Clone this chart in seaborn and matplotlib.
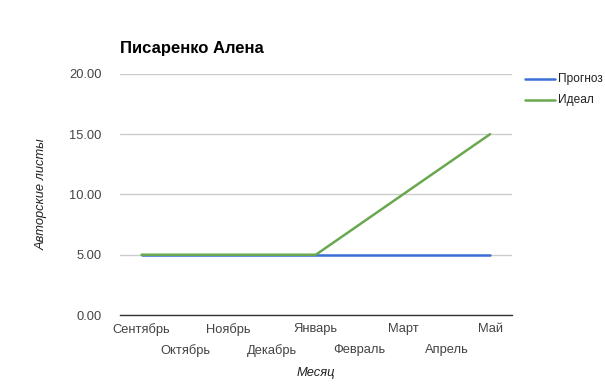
import pandas as pd
import matplotlib
matplotlib.use("Agg")
import matplotlib.pyplot as plt
import matplotlib.transforms as mtransforms
import seaborn as sns

months = ["Сентябрь", "Октябрь", "Ноябрь", "Декабрь", "Январь",
          "Февраль", "Март", "Апрель", "Май"]
forecast = [5, 5, 5, 5, 5, 5, 5, 5, 5]
ideal = [5, 5, 5, 5, 5, 7.5, 10, 12.5, 15]
series_names = ["Прогноз", "Идеал"]
y_ticks = [0, 5, 10, 15, 20]

sns.set_theme(style="white")
plt.rcParams["font.family"] = ["Liberation Sans", "DejaVu Sans"]

df = pd.DataFrame({
    "month": months * 2,
    "pos": list(range(len(months))) * 2,
    "value": forecast + ideal,
    "series": [series_names[0]] * len(months) + [series_names[1]] * len(months),
})

fig = plt.figure(figsize=(6.05, 3.87), dpi=100)
ax = fig.add_axes([0.198, 0.186, 0.648, 0.623])

colors = {"Прогноз": "#3c6fd6", "Идеал": "#6aa84f"}
sns.lineplot(data=df, x="pos", y="value", hue="series", palette=colors,
             linewidth=1.8, ax=ax, legend=False)

ax.set_xlim(-0.5, len(months) - 0.5)
ax.set_ylim(0, 20)
ax.set_yticks(y_ticks)
ax.set_yticklabels([f"{v:.2f}" for v in y_ticks], color="#444444", fontsize=9.3)
ax.set_xticks(range(len(months)))
ax.set_xticklabels(months, color="#444444", fontsize=9.3)
ax.tick_params(axis="y", length=0, pad=13)
ax.tick_params(axis="x", length=0, pad=6)

# staggered month labels: every second one lower
shift = mtransforms.ScaledTranslation(0, -21 / 100, fig.dpi_scale_trans)
for i, lbl in enumerate(ax.get_xticklabels()):
    if i % 2 == 1:
        lbl.set_transform(lbl.get_transform() + shift)

ax.grid(axis="y", color="#cccccc", linewidth=1)
ax.grid(axis="x", visible=False)
for s in ["top", "right", "left"]:
    ax.spines[s].set_visible(False)
ax.spines["bottom"].set_color("#333333")
ax.spines["bottom"].set_linewidth(1)
ax.set_axisbelow(True)

ax.set_xlabel("Месяц", fontsize=9.3, style="italic", color="#222222")
ax.xaxis.set_label_coords(0.5, -0.215)
ax.set_ylabel("Авторские листы", fontsize=9.3, style="italic", color="#222222")
ax.yaxis.set_label_coords(-0.185, 0.5)
ax.set_title("Писаренко Алена", fontsize=12, fontweight="bold", loc="left",
             x=0.0, pad=15, color="#000000")

# legend
for i, name in enumerate(series_names):
    y = 0.797 - i * 0.055
    fig.add_artist(plt.Line2D([0.868, 0.918], [y, y], color=colors[name], linewidth=1.8))
    fig.text(0.923, y, name, fontsize=8.6, color="#222222", va="center")

fig.savefig("out.png", dpi=100)
